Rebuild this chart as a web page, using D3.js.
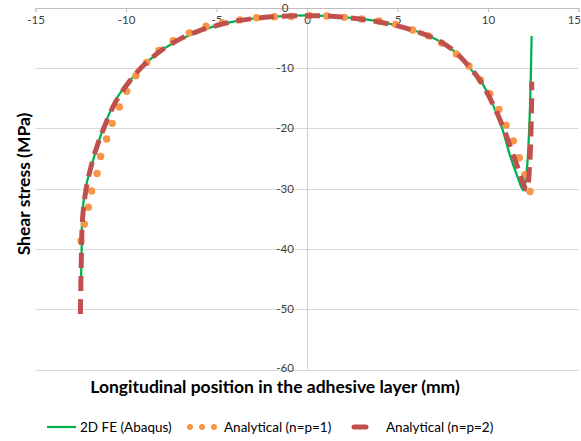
<!DOCTYPE html>
<html><head><meta charset="utf-8">
<script src="https://cdn.jsdelivr.net/npm/d3@7"></script>
<style>body{margin:0;background:#fff}svg{display:block}</style>
</head><body>
<svg id="c" width="581" height="441"></svg>
<script>
// Data
const xTicks = [-15, -10, -5, 0, 5, 10, 15];
const yTicks = [0, -10, -20, -30, -40, -50, -60];
const seriesNames = ["2D FE (Abaqus)", "Analytical (n=p=1)", "Analytical (n=p=2)"];

const feX = [-12.49,-12.45,-12.4,-12.17,-11.9,-11.67,-11.2,-10.5,-9.6,-8.86,-7.94,-7.0,-6.0,-5.0,-4.0,-3.0,-2.0,-1.0,0,1.0,2.0,3.0,4.0,5.0,6.0,6.8,7.5,8.27,8.91,9.56,10.2,10.8,11.2,11.6,11.95,12.14,12.28,12.36,12.41];
const feY = [-46.3,-40,-33.6,-29.1,-26.2,-23.8,-19.6,-15.0,-11.5,-9.1,-6.9,-5.3,-4.0,-3.0,-2.3,-1.85,-1.55,-1.38,-1.3,-1.4,-1.6,-1.9,-2.35,-3.0,-3.9,-4.8,-5.9,-7.6,-9.8,-12.0,-15.6,-20.2,-24.4,-27.8,-30.3,-27,-19.8,-12,-4.7];

const a1X = [-12.49,-12.3,-12.08,-11.9,-11.6,-11.4,-11.07,-10.76,-10.37,-9.96,-9.45,-8.86,-8.18,-7.39,-6.5,-5.58,-4.68,-3.7,-2.78,-1.8,-0.87,0.13,1.09,2.06,3.02,3.98,4.9,5.84,6.7,7.44,8.25,8.95,9.58,10.1,10.6,11.0,11.4,11.73,12.04,12.32];
const a1Y = [-38.7,-35.9,-33.1,-30.4,-27.5,-24.7,-21.8,-19.2,-16.5,-13.9,-11.3,-9.1,-7.1,-5.5,-4.2,-3.1,-2.5,-2.05,-1.7,-1.52,-1.5,-1.36,-1.41,-1.63,-1.9,-2.24,-2.8,-3.73,-4.7,-5.9,-7.7,-9.7,-12.0,-14.3,-16.9,-19.5,-22.1,-24.9,-27.7,-30.5];

const a2X = [-12.52,-12.47,-12.4,-12.2,-11.9,-11.6,-11.2,-10.6,-9.8,-9.0,-8.0,-7.0,-6.0,-5.0,-4.0,-3.0,-2.0,-1.0,0,1.0,2.0,3.0,4.0,5.0,6.0,7.0,8.0,8.9,9.6,10.2,10.8,11.3,11.7,12.0,12.15,12.3,12.38,12.42];
const a2Y = [-50.8,-42,-35,-30,-26,-23,-19.8,-15.8,-12.2,-9.5,-7.0,-5.2,-3.9,-3.0,-2.3,-1.85,-1.55,-1.4,-1.35,-1.4,-1.6,-1.95,-2.4,-3.05,-3.95,-5.1,-6.9,-9.6,-12.3,-15.6,-19.6,-23.6,-27,-29.6,-30.2,-26,-20,-12.3];

const svg = d3.select("#c");
const x = d3.scaleLinear().domain([-15, 15]).range([35.5, 578.5]);
const y = d3.scaleLinear().domain([0, -60]).range([7.5, 369.5]);
const font = "Lato, 'Open Sans', sans-serif";

// gridlines
svg.append("g").selectAll("line").data(yTicks.filter(d => d !== 0)).join("line")
  .attr("x1", x(-15)).attr("x2", x(15))
  .attr("y1", d => Math.round(y(d)) + 0.5).attr("y2", d => Math.round(y(d)) + 0.5)
  .attr("stroke", "#d9d9d9").attr("stroke-width", 1);

// vertical axis at x=0
svg.append("line").attr("x1", Math.round(x(0)) + 0.5).attr("x2", Math.round(x(0)) + 0.5)
  .attr("y1", y(0)).attr("y2", y(-60)).attr("stroke", "#d0d0d0");

// top x axis
const xAxis = d3.axisBottom(x).tickValues(xTicks).tickSize(4).tickFormat(d3.format("d"));
const gx = svg.append("g").attr("transform", `translate(0,${Math.round(y(0))})`).call(xAxis);
gx.select(".domain").attr("stroke", "#bfbfbf");
gx.selectAll(".tick line").attr("stroke", "#bfbfbf");
gx.selectAll(".tick text").attr("fill", "#404040").attr("font-family", font).attr("font-size", 11.5).attr("dy", "0.9em").attr("y", 6)
  .text(d => d < 0 ? "-" + Math.abs(d) : d)
  .attr("text-anchor", d => d === 15 ? "end" : "middle")
  .attr("x", d => d === 15 ? 2 : 0);

// y tick labels next to x=0 axis
svg.append("g").selectAll("text").data(yTicks).join("text")
  .attr("x", x(0) - 22).attr("y", d => y(d)).attr("dy", d => d === -60 ? "0.2em" : "0.35em")
  .attr("text-anchor", "middle").attr("fill", "#404040")
  .attr("font-family", font).attr("font-size", 11.5)
  .text(d => d < 0 ? "-" + Math.abs(d) : d);

const line = d3.line().x(d => x(d[0])).y(d => y(d[1])).curve(d3.curveCatmullRom.alpha(0.5));

// green FE
svg.append("path").datum(d3.zip(feX, feY)).attr("d", line)
  .attr("fill", "none").attr("stroke", "#00b050").attr("stroke-width", 2.25);

// orange dots
svg.append("g").selectAll("circle").data(d3.zip(a1X, a1Y)).join("circle")
  .attr("cx", d => x(d[0])).attr("cy", d => y(d[1])).attr("r", 3.7).attr("fill", "#f79646");

// red dashed
svg.append("path").datum(d3.zip(a2X, a2Y)).attr("d", line)
  .attr("fill", "none").attr("stroke", "#c0504d").attr("stroke-width", 5)
  .attr("stroke-dasharray", "15 8").attr("stroke-linecap", "butt");

// axis titles
svg.append("text").attr("x", 275).attr("y", 393)
  .attr("text-anchor", "middle").attr("font-family", font).attr("font-weight", "bold")
  .attr("font-size", 17.5).attr("fill", "#000")
  .text("Longitudinal position in the adhesive layer (mm)");
svg.append("text").attr("transform", "translate(30,184) rotate(-90)")
  .attr("text-anchor", "middle").attr("font-family", font).attr("font-weight", "bold")
  .attr("font-size", 17.5).attr("fill", "#000")
  .text("Shear stress (MPa)");

// legend
const ly = 427;
const lg = svg.append("g").attr("font-family", font).attr("font-size", 13.5).attr("fill", "#000");
lg.append("line").attr("x1", 47).attr("x2", 76).attr("y1", ly).attr("y2", ly).attr("stroke", "#00b050").attr("stroke-width", 2.25);
lg.append("text").attr("x", 80).attr("y", ly).attr("dy", "0.35em").text(seriesNames[0]);
lg.selectAll("circle").data([190, 202, 214]).join("circle").attr("cx", d => d).attr("cy", ly).attr("r", 3).attr("fill", "#f79646");
lg.append("text").attr("x", 224).attr("y", ly).attr("dy", "0.35em").text(seriesNames[1]);
lg.append("line").attr("x1", 354).attr("x2", 366).attr("y1", ly).attr("y2", ly).attr("stroke", "#c0504d").attr("stroke-width", 5).attr("stroke-linecap", "round");
lg.append("text").attr("x", 386).attr("y", ly).attr("dy", "0.35em").text(seriesNames[2]);
</script>
</body></html>
